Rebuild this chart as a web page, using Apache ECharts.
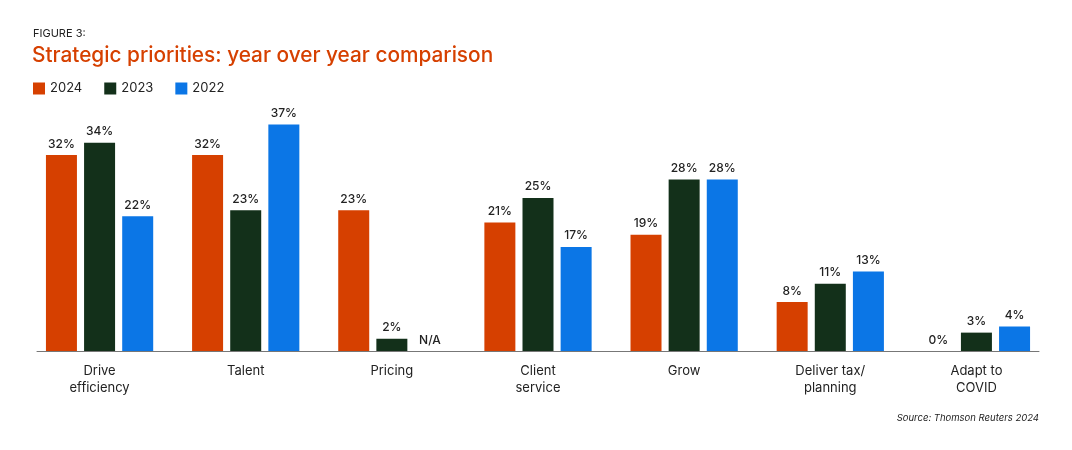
<!DOCTYPE html>
<html><head><meta charset="utf-8">
<script src="https://cdn.jsdelivr.net/npm/echarts@6/dist/echarts.min.js"></script>
<style>html,body{margin:0;padding:0;background:#fff}#c{width:1072px;height:450px}</style>
</head><body><div id="c"></div>
<script>
const categories = ['Drive\nefficiency','Talent','Pricing','Client\nservice','Grow','Deliver tax/\nplanning','Adapt to\nCOVID'];
const seriesNames = ['2024','2023','2022'];
const values2024 = [32,32,23,21,19,8,0];
const values2023 = [34,23,2,25,28,11,3];
const values2022 = [22,37,null,17,28,13,4];
const colors = ['#D64000','#13301A','#0B76E6'];
const FONT = 'Inter, "Liberation Sans", Arial, sans-serif';

function toData(arr){
  return arr.map(v => v === null ? {value:0, label:{formatter:'N/A'}} : v);
}
const chart = echarts.init(document.getElementById('c'));
const mk = (name, arr, i) => ({
  name, type:'bar', data: toData(arr), xAxisIndex:0, yAxisIndex:0,
  barWidth:31, barGap:'23%',
  itemStyle:{color:colors[i]},
  label:{show:true, position:'top', distance:5, formatter:'{c}%', color:'#222', fontSize:12, fontWeight:500, fontFamily:FONT},
  emphasis:{disabled:true}
});
chart.setOption({
  animation:false,
  title:[
    {text:'FIGURE 3:', left:33, top:28, padding:0, textStyle:{fontSize:11, fontWeight:'normal', color:'#222', fontFamily:FONT}},
    {text:'Strategic priorities: year over year comparison', left:32, top:45, padding:0, textStyle:{fontSize:20.8, fontWeight:500, color:'#D64000', fontFamily:FONT}},
    {text:'Source: Thomson Reuters 2024', right:33, top:413, padding:0, textStyle:{fontSize:9.5, fontStyle:'italic', fontWeight:'normal', color:'#222', fontFamily:FONT}}
  ],
  legend:{left:33, top:82, padding:0, itemWidth:12, itemHeight:12, itemGap:22, icon:'rect',
    data:seriesNames,
    textStyle:{fontSize:13, color:'#222', fontFamily:FONT}},
  grid:[
    {left:26.5, right:22.5, top:106, bottom:99, containLabel:false},
    {left:37, right:33, top:106, bottom:99, containLabel:false}
  ],
  xAxis:[
    {type:'category', data:categories, gridIndex:0,
     axisLine:{show:false}, axisTick:{show:false},
     axisLabel:{color:'#222', fontSize:13, lineHeight:17, margin:12, fontFamily:FONT, interval:0}},
    {type:'category', data:categories, gridIndex:1,
     axisLine:{show:true, lineStyle:{color:'#777', width:1}}, axisTick:{show:false}, axisLabel:{show:false}}
  ],
  yAxis:[
    {type:'value', min:0, max:40, gridIndex:0, show:false, splitLine:{show:false}},
    {type:'value', min:0, max:40, gridIndex:1, show:false, splitLine:{show:false}}
  ],
  series:[
    mk('2024', values2024, 0),
    mk('2023', values2023, 1),
    mk('2022', values2022, 2)
  ]
});
</script></body></html>
